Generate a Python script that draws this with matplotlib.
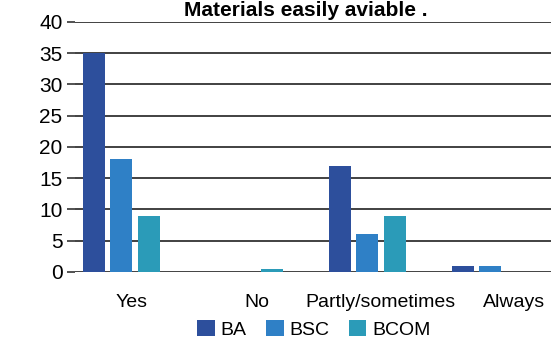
import numpy as np
import matplotlib.pyplot as plt

plt.rcParams['font.family'] = ['Liberation Sans', 'DejaVu Sans']

# survey answers per course
categories = ['Yes', 'No', 'Partly/sometimes', 'Always']
courses = ['BA', 'BSC', 'BCOM']
ba = [35, 0, 17, 1]
bsc = [18, 0, 6, 1]
bcom = [9, 0.5, 9, 0]
colors = ['#2d4f9c', '#2f80c6', '#2b9bb8']

fig = plt.figure(figsize=(5.51, 3.45), dpi=100)
ax = fig.add_axes([0.136, 0.212, 0.87, 0.725])

x = np.arange(len(categories))
w = 0.18
step = 0.222
for k, (vals, name) in enumerate(zip([ba, bsc, bcom], courses)):
    ax.bar(x + (k - 1) * step, vals, w, color=colors[k], label=name, zorder=3)

ax.set_ylim(0, 40)
ax.set_yticks(range(0, 41, 5))
ax.set_xlim(-0.377, 3.52)
ax.yaxis.grid(True, color='#333333', linewidth=1.3, zorder=0)
for s in ax.spines.values():
    s.set_visible(False)
ax.tick_params(axis='y', length=6, width=1.2, color='#333333', labelsize=15, pad=3)
ax.tick_params(axis='x', length=0, labelsize=14, pad=16)

# labels sit a little right of the group centres
shift = [0.08, 0.1, 0.11, 0.19]
ax.set_xticks(x + np.array(shift))
ax.set_xticklabels(categories)

fig.text(0.555, 0.955, 'Materials easily aviable .', ha='center', va='baseline',
         fontsize=15, fontweight='bold')

fig.legend(loc='center', bbox_to_anchor=(0.57, 0.045), ncol=3, frameon=False,
           fontsize=14, handlelength=0.9, handleheight=0.9, handletextpad=0.3,
           columnspacing=1.0)

fig.savefig('out.png', dpi=100)
